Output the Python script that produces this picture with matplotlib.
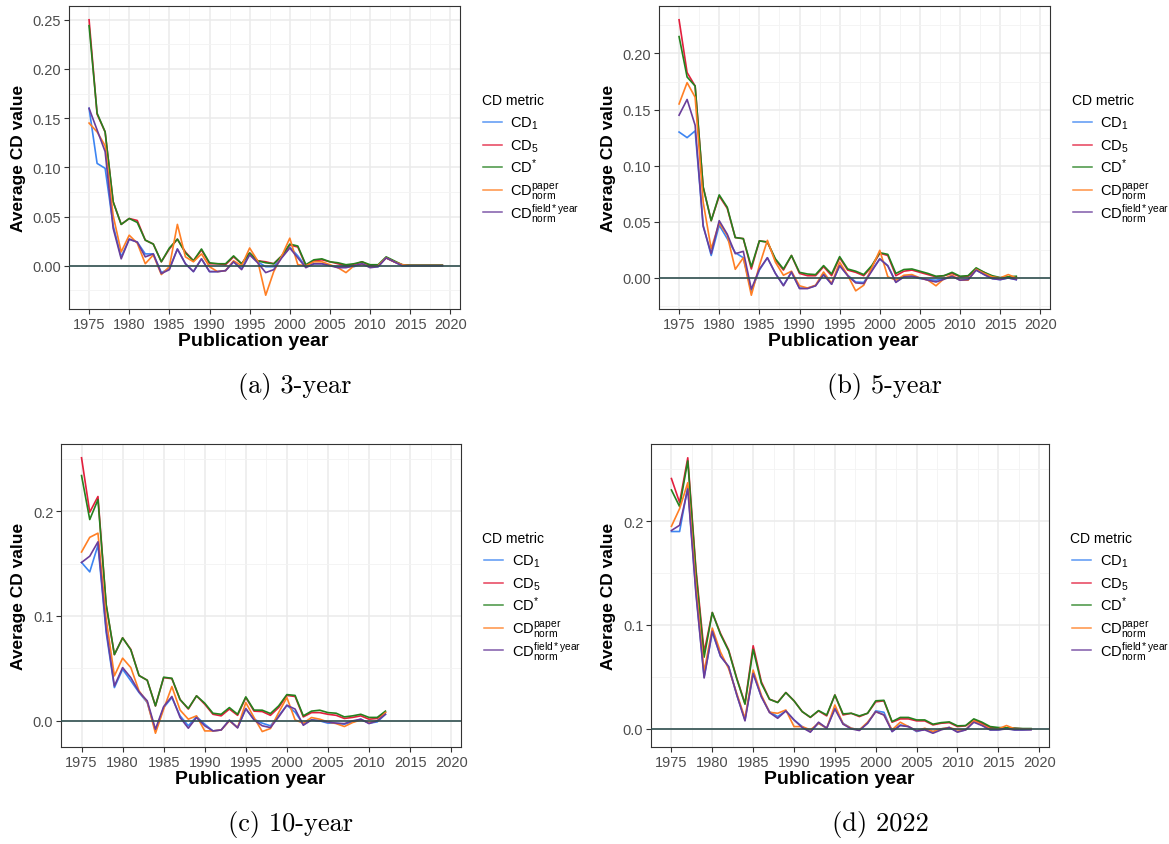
import matplotlib
matplotlib.use("Agg")
import matplotlib.pyplot as plt
from matplotlib.lines import Line2D

plt.rcParams['font.family'] = ['Liberation Sans', 'DejaVu Sans']
plt.rcParams['mathtext.fontset'] = 'custom'
plt.rcParams['mathtext.rm'] = 'Liberation Sans'
plt.rcParams['mathtext.it'] = 'Liberation Sans:italic'
plt.rcParams['mathtext.bf'] = 'Liberation Sans:bold'

# ---- data ----
metrics = [r'$\mathrm{CD}_1$', r'$\mathrm{CD}_5$', r'$\mathrm{CD}^{*}$',
           r'$\mathrm{CD}_{\mathrm{norm}}^{\mathrm{paper}}$',
           r'$\mathrm{CD}_{\mathrm{norm}}^{\mathrm{field*year}}$']
colors = ['#3D85F2', '#E21F3D', '#25811E', '#FF7F24', '#6A3D9A']
captions = ['(a) 3-year', '(b) 5-year', '(c) 10-year', '(d) 2022']
x_ticks = [1975, 1980, 1985, 1990, 1995, 2000, 2005, 2010, 2015, 2020]

years_a = list(range(1975, 2020))
a_cd1 = [0.160, 0.104, 0.099, 0.041, 0.009, 0.027, 0.024, 0.012, 0.012, -0.007,
         -0.003, 0.017, 0.002, -0.006, 0.007, -0.006, -0.006, -0.005, 0.004, -0.003,
         0.012, 0.004, -0.001, -0.001, 0.009, 0.019, 0.010, -0.001, 0.002, 0.002,
         0.000, -0.001, -0.001, -0.001, 0.002, -0.001, -0.001, 0.008, 0.004, 0.000,
         0.000, 0.000, 0.000, 0.000, 0.000]
a_cd5 = [0.250, 0.154, 0.136, 0.065, 0.042, 0.048, 0.046, 0.026, 0.022, 0.004,
         0.017, 0.027, 0.014, 0.005, 0.016, 0.002, 0.002, 0.001, 0.009, 0.002,
         0.013, 0.005, 0.004, 0.002, 0.010, 0.021, 0.019, 0.000, 0.005, 0.006,
         0.004, 0.002, 0.000, 0.001, 0.004, 0.000, 0.000, 0.008, 0.004, 0.001,
         0.0005, 0.0005, 0.0005, 0.0005, 0.0005]
a_cds = [0.244, 0.155, 0.136, 0.065, 0.042, 0.048, 0.044, 0.026, 0.022, 0.004,
         0.018, 0.027, 0.013, 0.005, 0.017, 0.003, 0.002, 0.002, 0.010, 0.002,
         0.013, 0.005, 0.003, 0.002, 0.010, 0.022, 0.020, 0.001, 0.006, 0.007,
         0.004, 0.003, 0.001, 0.002, 0.004, 0.001, 0.001, 0.009, 0.005, 0.001,
         0.0005, 0.0005, 0.0005, 0.0005, 0.0005]
a_paper = [0.145, 0.136, 0.122, 0.051, 0.014, 0.031, 0.023, 0.002, 0.011, -0.009,
           -0.001, 0.042, 0.009, 0.004, 0.012, -0.001, -0.006, -0.005, 0.005, 0.000,
           0.018, 0.005, -0.030, -0.006, 0.010, 0.028, 0.001, 0.000, 0.004, 0.004,
           0.001, -0.002, -0.007, 0.000, 0.001, -0.001, 0.000, 0.008, 0.004, 0.001,
           0.000, 0.000, 0.000, 0.000, 0.000]
a_field = [0.160, 0.138, 0.116, 0.038, 0.007, 0.027, 0.024, 0.009, 0.012, -0.008,
           -0.004, 0.017, 0.002, -0.006, 0.007, -0.006, -0.006, -0.005, 0.004, -0.004,
           0.011, 0.003, -0.007, -0.004, 0.008, 0.018, 0.008, -0.002, 0.002, 0.002,
           0.000, -0.002, -0.002, 0.000, 0.002, -0.002, -0.001, 0.008, 0.004, 0.000,
           0.000, 0.000, 0.000, 0.000, 0.000]

years_b = list(range(1975, 2018))
b_cd1 = [0.130, 0.125, 0.131, 0.047, 0.020, 0.047, 0.035, 0.0225, 0.018, -0.012,
         0.007, 0.018, 0.004, -0.0065, 0.005, -0.009, -0.009, -0.007, 0.003, -0.0056,
         0.011, 0.0024, -0.0036, -0.004, 0.007, 0.017, 0.011, -0.0036, 0.001, 0.0015,
         -0.0006, -0.0015, -0.002, -0.0006, 0.0015, -0.002, -0.0015, 0.007, 0.003, -0.0006,
         -0.0015, 0.000, -0.0015]
b_cd5 = [0.230, 0.183, 0.171, 0.081, 0.051, 0.073, 0.062, 0.036, 0.035, 0.008,
         0.033, 0.032, 0.016, 0.007, 0.020, 0.004, 0.002, 0.002, 0.010, 0.002,
         0.018, 0.007, 0.005, 0.002, 0.010, 0.022, 0.020, 0.002, 0.006, 0.007,
         0.005, 0.003, 0.001, 0.002, 0.004, 0.001, 0.0015, 0.008, 0.005, 0.001,
         0.000, 0.0005, 0.0005]
b_cds = [0.215, 0.179, 0.171, 0.081, 0.051, 0.074, 0.063, 0.036, 0.035, 0.010,
         0.033, 0.032, 0.017, 0.008, 0.020, 0.005, 0.0035, 0.003, 0.011, 0.0035,
         0.019, 0.008, 0.006, 0.003, 0.011, 0.0225, 0.021, 0.004, 0.0075, 0.008,
         0.006, 0.004, 0.0015, 0.002, 0.005, 0.0015, 0.002, 0.009, 0.005, 0.002,
         0.0003, 0.001, 0.0015]
b_paper = [0.155, 0.174, 0.161, 0.0676, 0.026, 0.049, 0.038, 0.0077, 0.018, -0.0154,
           0.011, 0.0335, 0.014, 0.0024, 0.006, -0.007, -0.009, -0.0065, 0.0053, -0.005,
           0.014, 0.0024, -0.0115, -0.0065, 0.009, 0.0246, 0.001, -0.002, 0.0024, 0.003,
           0.000, -0.002, -0.007, -0.0006, 0.0024, -0.002, -0.002, 0.0077, 0.004, 0.001,
           0.000, 0.003, 0.000]
b_field = [0.145, 0.159, 0.136, 0.046, 0.0216, 0.051, 0.039, 0.0216, 0.0237, -0.010,
           0.0077, 0.018, 0.004, -0.007, 0.0053, -0.0095, -0.0095, -0.007, 0.003, -0.0056,
           0.011, 0.002, -0.0044, -0.005, 0.006, 0.017, 0.0107, -0.004, 0.001, 0.0015,
           0.000, -0.002, -0.0036, -0.0012, 0.0015, -0.002, -0.0015, 0.007, 0.003, -0.0006,
           -0.0015, 0.000, -0.0015]

years_c = list(range(1975, 2013))
c_cd1 = [0.151, 0.142, 0.1675, 0.084, 0.0315, 0.049, 0.038, 0.0268, 0.0172, -0.0099,
         0.0124, 0.022, 0.0045, -0.005, 0.0038, -0.0035, -0.0099, -0.009, 0.0003, -0.0067,
         0.011, 0.0013, -0.0025, -0.005, 0.0045, 0.0146, 0.008, -0.0035, 0.0006, -0.0003,
         -0.0025, -0.0025, -0.0035, -0.0013, 0.0013, -0.0025, -0.0013, 0.006]
c_cd5 = [0.251, 0.199, 0.214, 0.110, 0.063, 0.079, 0.068, 0.043, 0.0385, 0.014,
         0.041, 0.040, 0.020, 0.011, 0.0236, 0.0156, 0.006, 0.0045, 0.011, 0.005,
         0.022, 0.009, 0.0086, 0.005, 0.0124, 0.024, 0.023, 0.0035, 0.0076, 0.0076,
         0.006, 0.005, 0.002, 0.003, 0.0045, 0.0013, 0.002, 0.008]
c_cds = [0.234, 0.192, 0.211, 0.111, 0.063, 0.079, 0.0675, 0.043, 0.0385, 0.014,
         0.0414, 0.0404, 0.020, 0.0115, 0.0236, 0.0166, 0.007, 0.006, 0.0124, 0.006,
         0.0226, 0.010, 0.0099, 0.0067, 0.014, 0.0248, 0.024, 0.0045, 0.009, 0.0099,
         0.0076, 0.007, 0.0035, 0.0045, 0.006, 0.003, 0.003, 0.009]
c_paper = [0.161, 0.175, 0.179, 0.097, 0.0427, 0.0596, 0.0506, 0.0283, 0.0178, -0.0121,
           0.011, 0.0325, 0.010, 0.0013, 0.0045, -0.0099, -0.0099, -0.009, -0.0003, -0.0067,
           0.0172, 0.0029, -0.0105, -0.0076, 0.0076, 0.022, 0.0006, -0.0025, 0.0029, 0.0013,
           -0.0013, -0.0029, -0.0057, -0.0019, 0.0006, -0.0019, -0.0003, 0.0076]
c_field = [0.151, 0.157, 0.1707, 0.087, 0.033, 0.0506, 0.041, 0.0274, 0.0188, -0.0083,
           0.0134, 0.023, 0.0029, -0.0073, 0.0029, -0.005, -0.0099, -0.009, 0.0003, -0.007,
           0.0115, 0.0006, -0.005, -0.0067, 0.0035, 0.0146, 0.011, -0.0045, 0.0006, -0.0003,
           -0.0013, -0.0025, -0.0029, -0.0003, 0.0013, -0.0029, -0.0003, 0.006]

years_d = list(range(1975, 2020))
d_cd1 = [0.190, 0.190, 0.233, 0.132, 0.050, 0.093, 0.070, 0.060, 0.0326, 0.0086,
         0.0534, 0.031, 0.0166, 0.0118, 0.0173, 0.0086, 0.0022, -0.0026, 0.0054, 0.0006,
         0.020, 0.0054, 0.0006, -0.001, 0.0054, 0.0173, 0.016, -0.0026, 0.0038, 0.0022,
         -0.0026, -0.0003, -0.0026, 0.000, 0.0013, -0.0026, -0.001, 0.007, 0.0038, -0.001,
         -0.001, 0.0006, -0.001, -0.001, -0.0003]
d_cd5 = [0.241, 0.218, 0.261, 0.154, 0.074, 0.112, 0.092, 0.076, 0.0486, 0.0246,
         0.080, 0.0454, 0.0285, 0.0256, 0.035, 0.027, 0.0166, 0.011, 0.0173, 0.0125,
         0.0326, 0.0134, 0.015, 0.0118, 0.015, 0.026, 0.027, 0.0064, 0.0096, 0.0096,
         0.0077, 0.0077, 0.0038, 0.0054, 0.006, 0.0022, 0.0029, 0.0086, 0.0054, 0.0013,
         0.0006, 0.0006, 0.0006, 0.000, 0.000]
d_cds = [0.230, 0.214, 0.258, 0.151, 0.069, 0.112, 0.091, 0.075, 0.048, 0.0237,
         0.0765, 0.0438, 0.0285, 0.0253, 0.0349, 0.027, 0.0166, 0.0112, 0.0176, 0.0134,
         0.0326, 0.0144, 0.015, 0.0125, 0.015, 0.027, 0.0275, 0.007, 0.011, 0.011,
         0.0086, 0.0086, 0.0045, 0.006, 0.0067, 0.0029, 0.0032, 0.0096, 0.0064, 0.0022,
         0.0013, 0.001, 0.0006, 0.0003, 0.0003]
d_paper = [0.195, 0.212, 0.237, 0.138, 0.055, 0.097, 0.074, 0.058, 0.034, 0.0102,
           0.0566, 0.0326, 0.016, 0.015, 0.0182, 0.0022, 0.0022, -0.001, 0.0054, 0.0006,
           0.023, 0.0048, 0.0006, -0.001, 0.0064, 0.0166, 0.0134, -0.001, 0.0064, 0.0022,
           -0.0019, 0.0006, -0.0026, 0.000, 0.0013, -0.001, -0.001, 0.0077, 0.0038, 0.000,
           0.000, 0.0032, 0.000, 0.000, 0.000]
d_field = [0.191, 0.196, 0.231, 0.130, 0.049, 0.094, 0.070, 0.060, 0.0326, 0.0077,
           0.0534, 0.031, 0.0157, 0.0102, 0.0173, 0.0086, 0.0013, -0.0032, 0.0064, 0.0006,
           0.0192, 0.0045, 0.000, -0.0016, 0.0054, 0.0166, 0.0134, -0.0026, 0.0032, 0.0022,
           -0.0019, -0.001, -0.0042, -0.001, 0.0013, -0.0032, -0.001, 0.0064, 0.0032, -0.001,
           -0.001, 0.000, -0.001, -0.001, -0.001]

W, H = 1169, 845
fig = plt.figure(figsize=(W / 100, H / 100), dpi=100)

GRID = '#EBEBEB'
DARK = '#333333'
TXT = '#4D4D4D'


def fx(px):
    return px / W


def fy(py):
    return 1 - py / H


def panel(box, ylab_x, years, series, yticks, yminor, yfmt, caption, cap_y):
    left, top, right, bottom = box
    ax = fig.add_axes([fx(left), fy(bottom), fx(right - left), (bottom - top) / H])
    for vals, c in zip(series, colors):
        ax.plot(years, vals, color=c, lw=1.2, solid_joinstyle='round', zorder=3)
    ax.axhline(0, color='#2F4F4F', lw=1.2, zorder=4)
    # ggplot style 5% expansion
    lo = min(min(s) for s in series)
    hi = max(max(s) for s in series)
    pad = (hi - lo) * 0.05
    ax.set_ylim(lo - pad, hi + pad)
    ax.set_xlim(1972.8, 2021.2)
    ax.set_xticks(x_ticks)
    ax.set_xticks([t + 2.5 for t in x_ticks[:-1]] + [1972.5], minor=True)
    ax.set_yticks(yticks)
    ax.set_yticklabels([yfmt.format(t) for t in yticks])
    ax.set_yticks(yminor, minor=True)
    ax.grid(which='major', color=GRID, lw=1.1, zorder=0)
    ax.grid(which='minor', color='#F3F3F3', lw=0.6, zorder=0)
    ax.set_axisbelow(True)
    for s in ax.spines.values():
        s.set_color(DARK)
        s.set_linewidth(0.8)
    ax.tick_params(which='major', length=3.5, width=0.8, color=DARK,
                   labelcolor=TXT, labelsize=10.5, pad=2)
    ax.tick_params(which='minor', length=0)

    cy = (top + bottom) / 2
    cx = (left + right) / 2
    fig.text(fx(ylab_x), fy(cy), 'Average CD value', rotation=90,
             ha='center', va='center', fontsize=12.5, fontweight='bold')
    fig.text(fx(cx - 11), fy(bottom + 32), 'Publication year',
             ha='center', va='center', fontsize=14, fontweight='bold')

    # legend
    fig.text(fx(right + 21.5), fy(cy - 57.8), 'CD metric', ha='left',
             va='center', fontsize=10)
    offs = [-35.8, -12.5, 9.8, 32.5, 54.8]
    for lab, c, o in zip(metrics, colors, offs):
        yk = cy + o
        fig.add_artist(Line2D([fx(right + 23), fx(right + 42)], [fy(yk), fy(yk)],
                              color=c, lw=1.1, alpha=0.85))
        fig.text(fx(right + 50.5), fy(yk + 5), lab, ha='left', va='baseline',
                 fontsize=10.5)

    fig.text(fx(cx + 30), fy(cap_y), caption, ha='center', va='center',
             fontsize=19, family='cmr10')
    return ax


panel((69, 7, 460, 310), 19, years_a, [a_cd1, a_cd5, a_cds, a_paper, a_field],
      [0, 0.05, 0.10, 0.15, 0.20, 0.25], [-0.025, 0.025, 0.075, 0.125, 0.175, 0.225],
      '{:.2f}', captions[0], 386)
panel((659, 7, 1050, 310), 608, years_b, [b_cd1, b_cd5, b_cds, b_paper, b_field],
      [0, 0.05, 0.10, 0.15, 0.20], [-0.025, 0.025, 0.075, 0.125, 0.175, 0.225],
      '{:.2f}', captions[1], 386)
panel((61, 445, 461, 748), 19, years_c, [c_cd1, c_cd5, c_cds, c_paper, c_field],
      [0, 0.1, 0.2], [0.05, 0.15, 0.25], '{:.1f}', captions[2], 825)
panel((651, 445, 1049, 748), 608, years_d, [d_cd1, d_cd5, d_cds, d_paper, d_field],
      [0, 0.1, 0.2], [0.05, 0.15, 0.25], '{:.1f}', captions[3], 825)

fig.savefig('out.png', dpi=100, facecolor='white')
